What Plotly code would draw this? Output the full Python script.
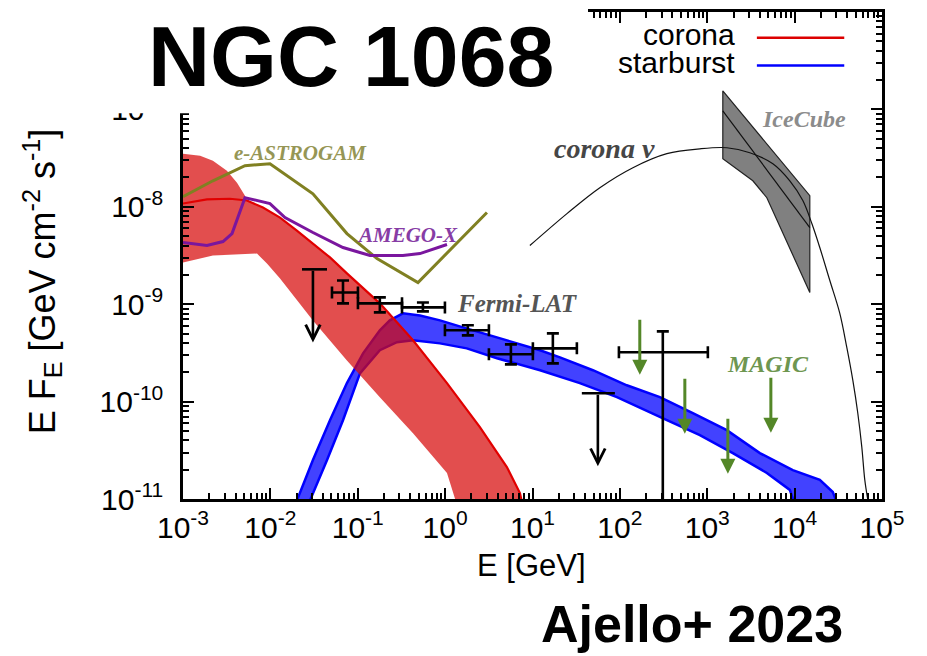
import numpy as np
import plotly.graph_objects as go

# ---------------- data (E in GeV, E*F_E in GeV cm^-2 s^-1) ----------------
# corona model band (gamma rays)
corona_up_E = [1.00e-3, 1.57e-3, 2.20e-3, 3.18e-3, 4.15e-3, 5.12e-3, 5.40e-3, 8.22e-3, 1.29e-2, 2.01e-2,
               3.07e-2, 4.81e-2, 7.52e-2, 0.179, 0.429, 1.05, 2.50, 5.09, 7.18, 8.18]
corona_up_F = [3.51e-8, 3.35e-8, 2.97e-8, 2.35e-8, 1.77e-8, 1.30e-8, 1.16e-8, 9.82e-9, 7.74e-9, 5.70e-9,
               4.20e-9, 3.02e-9, 2.07e-9, 1.02e-9, 4.26e-10, 1.55e-10, 5.47e-11, 2.13e-11, 1.15e-11, 6.9e-12]
corona_lo_E = [1.00e-3, 2.20e-3, 7.03e-3, 9.14e-3, 1.29e-2, 3.07e-2, 7.52e-2, 0.179, 0.429, 1.05, 1.48]
corona_lo_F = [2.68e-9, 3.16e-9, 3.31e-9, 2.62e-9, 1.84e-9, 6.82e-10, 2.65e-10, 1.11e-10, 4.74e-11, 1.85e-11, 6.9e-12]
corona_mid_E = [1.00e-3, 1.88e-3, 3.45e-3, 5.40e-3, 8.22e-3, 1.29e-2, 2.01e-2, 3.07e-2, 4.81e-2, 7.52e-2,
                0.179, 0.429, 1.05, 2.50, 5.09, 7.18, 8.18]
corona_mid_F = [1.08e-8, 1.19e-8, 1.21e-8, 1.16e-8, 9.82e-9, 7.74e-9, 5.70e-9, 4.20e-9, 3.02e-9, 2.07e-9,
                1.02e-9, 4.26e-10, 1.55e-10, 5.47e-11, 2.13e-11, 1.15e-11, 6.9e-12]

# starburst model band
sb_up_E = [0.0182, 0.0307, 0.0481, 0.0752, 0.115, 0.179, 0.233, 0.329, 0.515, 0.873, 1.60, 3.92, 12.2,
           20.6, 49.1, 120, 287, 684, 1675, 4000, 9530, 19410, 27350, 32890]
sb_up_F = [7.7e-12, 2.51e-11, 6.44e-11, 1.55e-10, 3.13e-10, 5.40e-10, 6.82e-10, 8.05e-10, 7.67e-10, 6.82e-10,
           5.78e-10, 4.57e-10, 3.37e-10, 2.85e-10, 2.10e-10, 1.47e-10, 1.11e-10, 7.60e-11, 5.09e-11, 2.96e-11,
           1.98e-11, 1.57e-11, 1.18e-11, 7.7e-12]
sb_lo_E = [0.0255, 0.0445, 0.0678, 0.106, 0.179, 0.281, 0.429, 0.873, 1.77, 3.92, 12.2, 34.8, 92.5, 345,
           823, 1963, 4808, 8810, 10590]
sb_lo_F = [7.7e-12, 2.51e-11, 6.44e-11, 1.95e-10, 3.37e-10, 4.07e-10, 4.26e-10, 3.96e-10, 3.52e-10, 2.79e-10,
           2.10e-10, 1.55e-10, 1.11e-10, 6.44e-11, 4.53e-11, 2.96e-11, 1.85e-11, 1.24e-11, 7.7e-12]

# sensitivity curves
astrogam_E = [1.00e-3, 2.20e-3, 5.12e-3, 9.89e-3, 3.07e-2, 7.52e-2, 0.166, 0.489, 3.01]
astrogam_F = [1.27e-8, 1.85e-8, 2.64e-8, 2.77e-8, 1.36e-8, 5.31e-9, 2.94e-9, 1.67e-9, 8.73e-9]
amego_E = [1.00e-3, 1.88e-3, 2.87e-3, 3.64e-3, 5.12e-3, 9.89e-3, 1.47e-2, 3.07e-2, 6.78e-2, 0.138, 0.329, 0.515, 1.05]
amego_F = [4.30e-9, 4.00e-9, 4.40e-9, 5.31e-9, 1.24e-8, 1.08e-8, 7.74e-9, 5.45e-9, 3.82e-9, 3.16e-9, 3.16e-9,
           3.31e-9, 4.10e-9]

# corona neutrino model
nu_E = [9.33, 24.8, 59.0, 141, 345, 823, 1676, 3070, 5636, 8810, 12410, 15740, 19410, 25290, 32890, 39550,
        46340, 52850, 58740, 63540, 68840]
nu_F = [4.00e-9, 8.51e-9, 1.57e-8, 2.52e-8, 3.51e-8, 3.94e-8, 4.04e-8, 3.59e-8, 2.77e-8, 1.85e-8, 1.16e-8,
        6.73e-9, 3.82e-9, 1.75e-9, 8.05e-10, 3.60e-10, 1.66e-10, 7.60e-11, 3.41e-11, 1.57e-11, 9.8e-12]

# IceCube
ic_up_E = [1507, 14920]
ic_up_F = [1.55e-7, 1.30e-8]
ic_lo_E = [1507, 3325, 4808, 14920]
ic_lo_F = [3.12e-8, 1.85e-8, 1.24e-8, 1.32e-9]
ic_fit_E = [1507, 14920]
ic_fit_F = [9.68e-8, 6.12e-9]

# Fermi-LAT points
fermi_E = [0.0678, 0.179, 0.557, 1.82, 5.66, 17.1, 310]
fermi_E_lo = [0.0507, 0.1005, 0.321, 0.995, 3.17, 10.1, 97.5]
fermi_E_hi = [0.1005, 0.321, 0.995, 3.17, 10.1, 32.2, 1016]
fermi_F = [1.32e-9, 1.02e-9, 9.27e-10, 5.40e-10, 3.06e-10, 3.52e-10, 3.21e-10]
fermi_F_hi = [1.75e-9, 1.175e-9, 1.04e-9, 6.07e-10, 3.87e-10, 5.02e-10, 5.26e-10]
fermi_F_lo = [1.02e-9, 8.24e-10, 8.43e-10, 4.79e-10, 2.41e-10, 2.47e-10, 1e-13]

# Fermi-LAT upper limits
fermi_ul_E = [0.0307, 56.0]
fermi_ul_E_lo = [0.0230, 36.7]
fermi_ul_E_hi = [0.0445, 87.7]
fermi_ul_F = [2.28e-9, 1.22e-10]

# MAGIC upper limits
magic_E = [169, 554, 1722, 5346]
magic_F = [7.16e-10, 1.78e-10, 6.92e-11, 1.82e-10]

x_tickvals = [1e-3, 1e-2, 1e-1, 1e0, 1e1, 1e2, 1e3, 1e4, 1e5]
x_ticktext = ["10<sup>-3</sup>", "10<sup>-2</sup>", "10<sup>-1</sup>", "10<sup>0</sup>", "10<sup>1</sup>",
              "10<sup>2</sup>", "10<sup>3</sup>", "10<sup>4</sup>", "10<sup>5</sup>"]
y_tickvals = [1e-11, 1e-10, 1e-9, 1e-8, 1e-7]
y_ticktext = ["10<sup>-11</sup>", "10<sup>-10</sup>", "10<sup>-9</sup>", "10<sup>-8</sup>", "10<sup>-7</sup>"]

# ---------------- figure ----------------
fig = go.Figure()

def band(xu, yu, xl, yl):
    return list(xu) + list(xl)[::-1] + [xu[0]], list(yu) + list(yl)[::-1] + [yu[0]]

bx, by = band(sb_up_E, sb_up_F, sb_lo_E, sb_lo_F)
fig.add_trace(go.Scatter(x=bx, y=by, mode="lines", fill="toself", fillcolor="rgba(0,0,255,0.74)",
                         line=dict(color="rgb(0,0,255)", width=2.5), hoverinfo="skip"))

rx, ry = band(corona_up_E, corona_up_F, corona_lo_E, corona_lo_F)
fig.add_trace(go.Scatter(x=rx, y=ry, mode="lines", fill="toself", fillcolor="rgba(215,10,10,0.72)",
                         line=dict(width=0), hoverinfo="skip"))
fig.add_trace(go.Scatter(x=corona_mid_E, y=corona_mid_F, mode="lines",
                         line=dict(color="rgb(225,0,0)", width=2.2), hoverinfo="skip"))

ix, iy = band(ic_up_E, ic_up_F, ic_lo_E, ic_lo_F)
fig.add_trace(go.Scatter(x=ix, y=iy, mode="lines", fill="toself", fillcolor="rgb(128,128,128)",
                         line=dict(color="#222222", width=1.2), hoverinfo="skip"))
fig.add_trace(go.Scatter(x=ic_fit_E, y=ic_fit_F, mode="lines", line=dict(color="#111111", width=1.2),
                         hoverinfo="skip"))
fig.add_trace(go.Scatter(x=nu_E, y=nu_F, mode="lines", line=dict(color="#111111", width=1.2, shape="spline"),
                         hoverinfo="skip"))

fig.add_trace(go.Scatter(x=astrogam_E, y=astrogam_F, mode="lines", line=dict(color="rgb(128,128,34)", width=3),
                         hoverinfo="skip"))
fig.add_trace(go.Scatter(x=amego_E, y=amego_F, mode="lines", line=dict(color="rgb(122,22,158)", width=3),
                         hoverinfo="skip"))

fE = np.array(fermi_E); fF = np.array(fermi_F)
fig.add_trace(go.Scatter(
    x=fE, y=fF, mode="markers", marker=dict(size=2, color="black"),
    error_x=dict(type="data", symmetric=False, array=np.array(fermi_E_hi) - fE,
                 arrayminus=fE - np.array(fermi_E_lo), color="black", thickness=2.6, width=6),
    error_y=dict(type="data", symmetric=False, array=np.array(fermi_F_hi) - fF,
                 arrayminus=fF - np.array(fermi_F_lo), color="black", thickness=2.6, width=6),
    hoverinfo="skip"))

uE = np.array(fermi_ul_E)
fig.add_trace(go.Scatter(
    x=uE, y=fermi_ul_F, mode="markers", marker=dict(size=1, color="black"),
    error_x=dict(type="data", symmetric=False, array=np.array(fermi_ul_E_hi) - uE,
                 arrayminus=uE - np.array(fermi_ul_E_lo), color="black", thickness=2.6, width=0),
    hoverinfo="skip"))

annotations = []
for e, f in zip(fermi_ul_E, fermi_ul_F):
    annotations.append(dict(x=np.log10(e), y=np.log10(f) - 0.75, ax=np.log10(e), ay=np.log10(f),
                            xref="x", yref="y", axref="x", ayref="y", text="", showarrow=True,
                            arrowhead=5, arrowsize=1.1, arrowwidth=2.6, arrowcolor="black",
                            standoff=0, startstandoff=0))
for e, f in zip(magic_E, magic_F):
    annotations.append(dict(x=np.log10(e), y=np.log10(f) - 0.58, ax=np.log10(e), ay=np.log10(f),
                            xref="x", yref="y", axref="x", ayref="y", text="", showarrow=True,
                            arrowhead=2, arrowsize=1.0, arrowwidth=3, arrowcolor="rgb(84,135,40)",
                            standoff=0, startstandoff=0))

serif = "Liberation Serif, Times New Roman, serif"
def label(txt, lx, ly, color, size):
    annotations.append(dict(x=lx, y=ly, xref="x", yref="y", text="<b><i>%s</i></b>" % txt, showarrow=False,
                            xanchor="left", yanchor="middle", font=dict(family=serif, size=size, color=color)))

label("e-ASTROGAM", -2.44, -7.445, "rgb(150,150,85)", 21)
label("AMEGO-X", -1.03, -8.285, "rgb(135,60,165)", 21)
label("Fermi-LAT", 0.11, -8.99, "rgb(85,85,85)", 25)
label("corona ν", 1.22, -7.40, "rgb(70,70,70)", 28)
label("IceCube", 3.60, -7.10, "rgb(140,140,140)", 24)
label("MAGIC", 3.20, -9.61, "rgb(110,150,80)", 24)

# axis titles, legend, headings
sans = "Liberation Sans, Arial, sans-serif"
def ptext(txt, px, py, size, xanchor="center", angle=0):
    annotations.append(dict(x=px, y=py, xref="paper", yref="paper", text=txt, showarrow=False,
                            xanchor=xanchor, yanchor="middle", textangle=angle,
                            font=dict(family=sans, size=size, color="black")))

ptext("E F<sub>E</sub> [GeV cm<sup>-2</sup> s<sup>-1</sup>]", -0.2017, 0.447, 36, angle=-90)
ptext("E [GeV]", 0.498, -0.137, 31)
ptext("corona", 0.7926, 0.954, 30, xanchor="right")
ptext("starburst", 0.7926, 0.897, 30, xanchor="right")
ptext("<b>NGC 1068</b>", 0.240, 0.910, 86)
ptext("<b>Ajello+ 2023</b>", 0.728, -0.257, 52)

shapes = [
    dict(type="rect", xref="paper", yref="paper", x0=-0.3, x1=0.5794, y0=0.792, y1=1.05,
         fillcolor="white", line=dict(width=0), layer="above"),
    dict(type="line", xref="paper", yref="paper", x0=0.821, x1=0.946, y0=0.947, y1=0.947,
         line=dict(color="rgb(220,0,0)", width=2.5)),
    dict(type="line", xref="paper", yref="paper", x0=0.821, x1=0.946, y0=0.890, y1=0.890,
         line=dict(color="rgb(0,0,255)", width=2.5)),
]

minor_x = [k * 10.0 ** n for n in range(-3, 5) for k in range(2, 10)]
minor_y = [k * 10.0 ** n for n in range(-11, -6) for k in range(2, 10)]

axis_common = dict(type="log", showline=True, linewidth=2.5, linecolor="black", mirror="ticks",
                   ticks="inside", ticklen=11, tickwidth=2, tickcolor="black", showgrid=False, zeroline=False,
                   tickmode="array", tickfont=dict(family=sans, size=30, color="black"))

fig.update_xaxes(range=[-3, 5], tickvals=x_tickvals, ticktext=x_ticktext,
                 minor=dict(ticks="inside", ticklen=6, tickwidth=1.5, tickcolor="black", tickmode="array",
                            tickvals=minor_x, showgrid=False), **axis_common)
fig.update_yaxes(range=[-11, -6], tickvals=y_tickvals, ticktext=y_ticktext, ticklabelstandoff=11,
                 minor=dict(ticks="inside", ticklen=6, tickwidth=1.5, tickcolor="black", tickmode="array",
                            tickvals=minor_y, showgrid=False), **axis_common)

# the page adds an 8px body margin, so the figure is sized to fit inside the window
fig.update_layout(width=919, height=648, margin=dict(l=175, r=45, t=1, b=157),
                  paper_bgcolor="white", plot_bgcolor="white", showlegend=False,
                  annotations=annotations, shapes=shapes)

fig.write_html("out.html")
